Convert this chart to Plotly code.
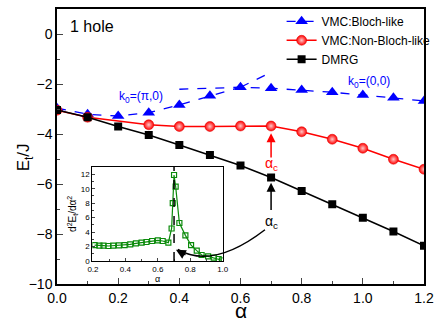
import plotly.graph_objects as go

# main panel data
alpha = [0.0, 0.1, 0.2, 0.3, 0.4, 0.5, 0.6, 0.7, 0.8, 0.9, 1.0, 1.1, 1.2]
e_bloch = [-2.97, -3.21, -3.28, -3.15, -2.84, -2.47, -2.13, -2.17, -2.24, -2.33, -2.44, -2.55, -2.68]
alpha_nonbloch = [0.0, 0.1, 0.3, 0.4, 0.5, 0.6, 0.7, 0.8, 0.9, 1.0, 1.1, 1.2]
e_nonbloch = [-3.05, -3.33, -3.63, -3.70, -3.70, -3.68, -3.68, -3.91, -4.21, -4.57, -5.01, -5.41]
e_dmrg = [-3.04, -3.33, -3.70, -4.04, -4.44, -4.84, -5.26, -5.74, -6.28, -6.81, -7.35, -7.90, -8.47]

# dashed continuations of the two Bloch branches
alpha_pi0_ext = [0.6, 0.7]
e_pi0_ext = [-2.13, -1.53]
alpha_00_ext = [0.4, 0.6]
e_00_ext = [-2.21, -2.13]

# inset: second derivative of DMRG energy
alpha_in = [0.21, 0.24, 0.265, 0.295, 0.325, 0.36, 0.395, 0.43, 0.465, 0.5, 0.53, 0.565, 0.6, 0.63,
            0.665, 0.685, 0.692, 0.70, 0.71, 0.733, 0.77, 0.805, 0.84, 0.87, 0.91, 0.945, 0.975, 0.995]
d2e_in = [2.2, 2.12, 2.12, 2.08, 2.12, 2.17, 2.2, 2.3, 2.45, 2.54, 2.63, 2.77, 2.86, 2.77,
          2.54, 4.5, 8.0, 11.9, 10.3, 5.26, 3.55, 2.2, 1.43, 0.83, 0.65, 0.46, 0.28, 0.1]
ALPHA_C = 0.7

BLUE = '#0000ff'
RED = '#ff0000'
GREEN = '#0a8a0a'
FONT = 'Liberation Sans, Arial, sans-serif'

fig = go.Figure()

fig.add_trace(go.Scatter(x=alpha, y=e_bloch, mode='lines+markers', name='VMC:Bloch-like',
                         line=dict(color=BLUE, width=1.3, dash='dash'),
                         marker=dict(symbol='triangle-up', size=11, color=BLUE)))
fig.add_trace(go.Scatter(x=alpha_pi0_ext, y=e_pi0_ext, mode='lines', showlegend=False,
                         line=dict(color=BLUE, width=1.3, dash='dash')))
fig.add_trace(go.Scatter(x=alpha_00_ext, y=e_00_ext, mode='lines', showlegend=False,
                         line=dict(color=BLUE, width=1.3, dash='dash')))
fig.add_trace(go.Scatter(x=alpha_nonbloch, y=e_nonbloch, mode='lines+markers', name='VMC:Non-Bloch-like',
                         line=dict(color=RED, width=1.5),
                         marker=dict(symbol='circle', size=10, color=RED,
                                     gradient=dict(type='radial', color='#ffc8c8'),
                                     line=dict(color='#dd0000', width=0.5))))
fig.add_trace(go.Scatter(x=alpha, y=e_dmrg, mode='lines+markers', name='DMRG',
                         line=dict(color='black', width=1.5),
                         marker=dict(symbol='square', size=8, color='black')))

# inset
fig.add_trace(go.Scatter(x=alpha_in, y=d2e_in, mode='lines+markers', showlegend=False,
                         xaxis='x2', yaxis='y2',
                         line=dict(color=GREEN, width=1.2),
                         marker=dict(symbol='square-open', size=5, color=GREEN, line=dict(width=1.2))))

fig.add_shape(type='line', xref='x2', yref='y2', x0=ALPHA_C, x1=ALPHA_C, y0=0, y1=13.05,
              line=dict(color='black', width=1.5, dash='dash'))

# curved arrow from black alpha_c label into the inset
fig.add_shape(type='path', xref='x', yref='y', layer='above',
              path='M 0.68,-7.83 Q 0.51,-9.43 0.395,-8.62',
              line=dict(color='black', width=1.5))

annotations = [
    dict(x=0.036, y=0.32, text='1 hole', showarrow=False, xanchor='left',
         font=dict(size=16, color='black')),
    dict(x=0.275, y=-2.52, text='k<sub>0</sub>=(π,0)', showarrow=False,
         font=dict(size=12, color=BLUE)),
    dict(x=1.02, y=-1.91, text='k<sub>0</sub>=(0,0)', showarrow=False,
         font=dict(size=12, color=BLUE)),
    dict(x=0.70, y=-5.2, text='α<sub>c</sub>', showarrow=False,
         font=dict(size=14, color=RED)),
    dict(x=0.70, y=-3.97, ax=0.70, ay=-5.0, axref='x', ayref='y', text='',
         showarrow=True, arrowhead=2, arrowsize=1.2, arrowwidth=1.5, arrowcolor=RED),
    dict(x=0.70, y=-7.5, text='α<sub>c</sub>', showarrow=False,
         font=dict(size=14, color='black')),
    dict(x=0.70, y=-5.95, ax=0.70, ay=-7.1, axref='x', ayref='y', text='',
         showarrow=True, arrowhead=2, arrowsize=1.2, arrowwidth=1.5, arrowcolor='black'),
    dict(x=0.389, y=-8.63, ax=11, ay=6, text='',
         showarrow=True, arrowhead=2, arrowsize=1.3, arrowwidth=1.5, arrowcolor='black'),
    # axis titles
    dict(x=0.5, y=-0.097, xref='paper', yref='paper', text='α', showarrow=False,
         yanchor='middle', font=dict(size=21, color='black')),
    dict(x=-0.123, y=0.46, xref='paper', yref='paper', text='E<sub>t</sub>/J', showarrow=False,
         textangle=-90, font=dict(size=17, color='black')),
]

fig.update_layout(
    width=436, height=327,
    margin=dict(l=57, r=12, t=9, b=43, autoexpand=False),
    paper_bgcolor='white', plot_bgcolor='white',
    font=dict(family=FONT, size=14, color='black'),
    showlegend=True,
    legend=dict(x=0.612, y=1.008, xanchor='left', yanchor='top', bgcolor='rgba(0,0,0,0)',
                font=dict(size=12), tracegroupgap=0),
    annotations=annotations,
    xaxis=dict(range=[0, 1.2], tick0=0, dtick=0.2, tickformat='.1f',
               ticks='inside', ticklen=6, tickwidth=1.2,
               minor=dict(dtick=0.1, ticks='inside', ticklen=3, tickwidth=1.2),
               showline=True, linewidth=1.5, linecolor='black', mirror=True,
               showgrid=False, zeroline=False),
    yaxis=dict(range=[-10, 1], tick0=0, dtick=2,
               ticks='inside', ticklen=6, tickwidth=1.2,
               minor=dict(dtick=1, ticks='inside', ticklen=3, tickwidth=1.2),
               showline=True, linewidth=1.5, linecolor='black', mirror=True,
               showgrid=False, zeroline=False),
    xaxis2=dict(domain=[0.0962, 0.4515], anchor='y2', range=[0.196, 1.0], tick0=0.2, dtick=0.2,
                tickformat='.1f', ticks='inside', ticklen=3, tickwidth=1,
                minor=dict(dtick=0.1, ticks='inside', ticklen=2),
                showline=True, linewidth=1, linecolor='black', mirror=True,
                showgrid=False, zeroline=False, tickfont=dict(size=8),
                title=dict(text='α', font=dict(size=9), standoff=0)),
    yaxis2=dict(domain=[0.0836, 0.4265], anchor='x2', range=[0, 13.05], tick0=0, dtick=2,
                ticks='inside', ticklen=3, tickwidth=1,
                minor=dict(dtick=1, ticks='inside', ticklen=2),
                showline=True, linewidth=1, linecolor='black', mirror=True,
                showgrid=False, zeroline=False, tickfont=dict(size=8),
                title=dict(text='d<sup>2</sup>E<sub>t</sub>/dα<sup>2</sup>', font=dict(size=10), standoff=2)),
)

# the page's default body margin would shift the figure by 8px
fig.write_html("out.html", config={'displayModeBar': False},
               post_script="document.body.style.margin='0';")
